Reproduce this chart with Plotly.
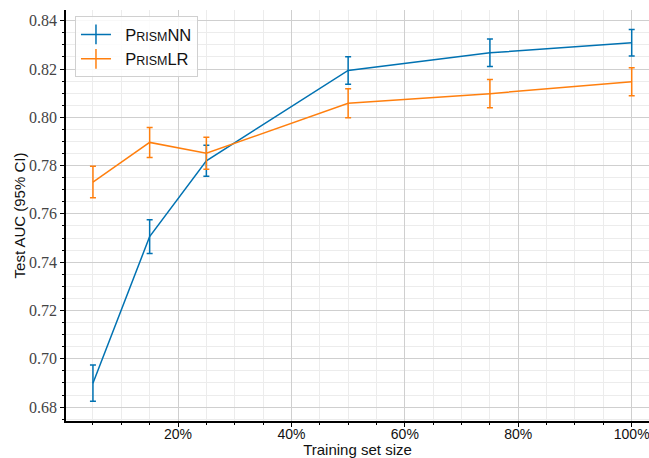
import plotly.graph_objects as go

train_size = [5, 15, 25, 50, 75, 100]

nn_auc = [0.6899, 0.7506, 0.7820, 0.8194, 0.8267, 0.8309]
nn_err = [0.0075, 0.0070, 0.0064, 0.0057, 0.0057, 0.0055]

lr_auc = [0.7732, 0.7896, 0.7851, 0.8058, 0.8098, 0.8147]
lr_err = [0.0065, 0.0062, 0.0066, 0.0060, 0.0058, 0.0058]

BLUE = "#0072b2"
ORANGE = "#ff7f0e"

name_nn = "\u00a0\u00a0P<span style='font-size:12.5px'>RISM</span>NN"
name_lr = "\u00a0\u00a0P<span style='font-size:12.5px'>RISM</span>LR"

fig = go.Figure()
for y, e, c, nm in [(nn_auc, nn_err, BLUE, name_nn), (lr_auc, lr_err, ORANGE, name_lr)]:
    fig.add_trace(go.Scatter(
        x=train_size, y=y, mode="lines",
        line=dict(color=c, width=1.5),
        error_y=dict(type="data", array=e, visible=True, color=c, thickness=1.5, width=3),
        showlegend=False, name=nm,
    ))
    fig.add_trace(go.Scatter(
        x=[None], y=[None], mode="lines+markers",
        line=dict(color=c, width=1.5),
        marker=dict(symbol="line-ns-open", size=14, color=c, line=dict(color=c, width=1.5)),
        name=nm, showlegend=True,
    ))

grid_major = "#cfcfcf"
grid_minor = "#ececec"
SANS = "Liberation Sans"
SERIF = "Liberation Serif"

fig.update_layout(
    width=649, height=458,
    margin=dict(l=66, r=0, t=10, b=37),
    plot_bgcolor="white", paper_bgcolor="white",
    font=dict(family=SANS, size=14, color="#111"),
    legend=dict(
        x=0.0154, y=0.985, xanchor="left", yanchor="top",
        bgcolor="rgba(255,255,255,0.85)", bordercolor="#d0d0d0", borderwidth=1,
        font=dict(family=SANS, size=16.5, color="#111"),
        tracegroupgap=0,
    ),
    xaxis=dict(
        range=[0.25, 103.05], automargin=False,
        dtick=20, tick0=0, ticksuffix="%", ticklabeloverflow="allow",
        ticklabelstandoff=-5,
        showline=True, linecolor="black", linewidth=1.5,
        ticks="outside", ticklen=4, tickcolor="black", tickwidth=1,
        showgrid=True, gridcolor=grid_major, gridwidth=1,
        zeroline=False,
        tickfont=dict(family=SANS, size=14, color="#111"),
        title=dict(text="Training set size", font=dict(family=SANS, size=15), standoff=2),
        minor=dict(dtick=5, tick0=0, showgrid=True, gridcolor=grid_minor, gridwidth=1,
                   ticks="outside", ticklen=2.5, tickcolor="black"),
    ),
    yaxis=dict(
        range=[0.67424, 0.84443], automargin=False,
        dtick=0.02, tick0=0.68, tickformat=".2f",
        showline=True, linecolor="black", linewidth=1.5,
        ticks="outside", ticklen=4, tickcolor="black", tickwidth=1,
        showgrid=True, gridcolor=grid_major, gridwidth=1,
        zeroline=False,
        tickfont=dict(family=SERIF, size=16, color="#444"),
        title=dict(text="Test AUC (95% CI)", font=dict(family=SANS, size=15), standoff=0),
        minor=dict(dtick=0.005, tick0=0.68, showgrid=True, gridcolor=grid_minor, gridwidth=1,
                   ticks="outside", ticklen=2, tickcolor="black"),
    ),
)

fig.write_html("out.html", config={"displayModeBar": False},
               post_script="document.body.style.margin='0';document.body.style.overflow='hidden';")
